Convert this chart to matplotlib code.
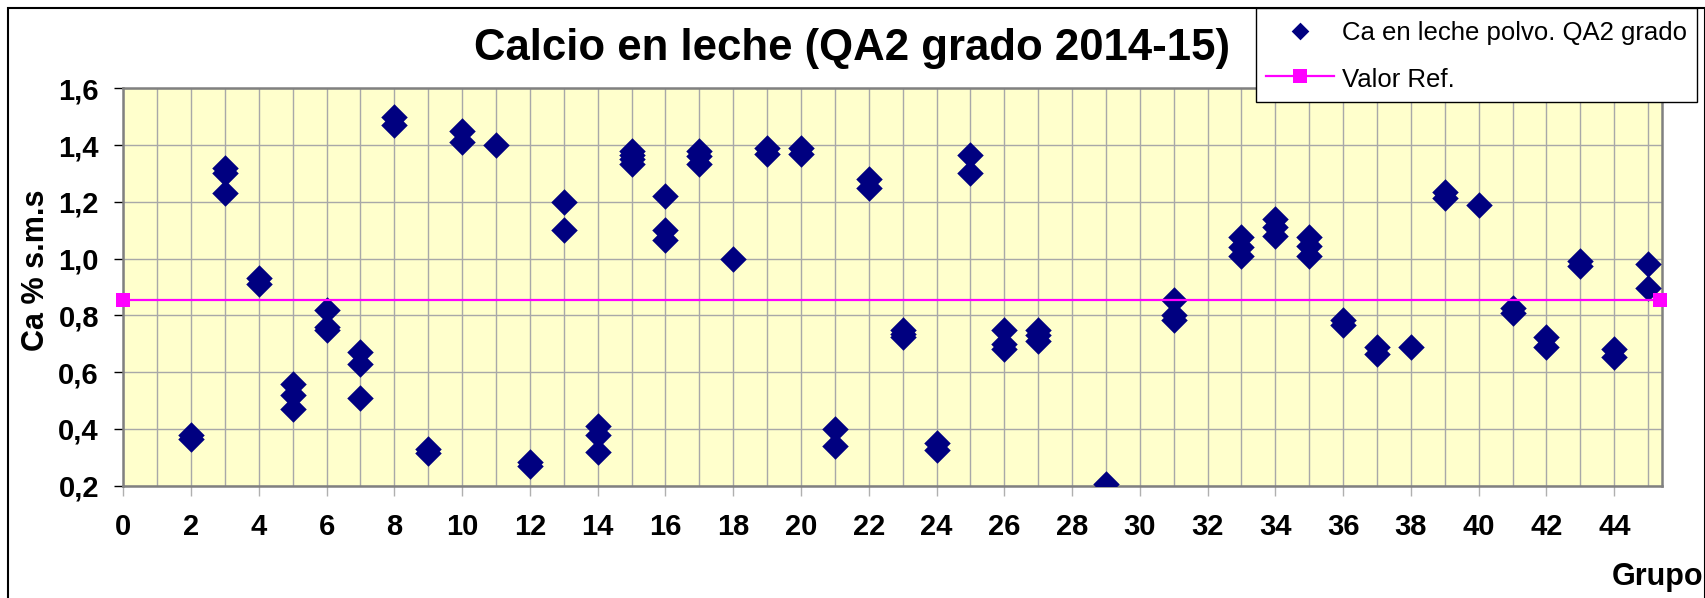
import matplotlib
matplotlib.use('Agg')
import matplotlib.pyplot as plt
from matplotlib.ticker import MultipleLocator, FuncFormatter
from matplotlib.patches import Rectangle

plt.rcParams['font.family'] = ['Liberation Sans', 'DejaVu Sans']

# datos
grupo = [2, 2,
         3, 3, 3,
         4, 4,
         5, 5, 5,
         6, 6, 6,
         7, 7, 7,
         8, 8,
         9, 9,
         10, 10,
         11,
         12, 12,
         13, 13,
         14, 14, 14,
         15, 15, 15, 15,
         16, 16, 16,
         17, 17, 17,
         18,
         19, 19,
         20, 20,
         21, 21,
         22, 22,
         23, 23, 23,
         24, 24,
         25, 25,
         26, 26, 26,
         27, 27, 27,
         29,
         31, 31, 31,
         33, 33, 33,
         34, 34, 34,
         35, 35, 35,
         36, 36,
         37, 37,
         38,
         39, 39,
         40,
         41, 41,
         42, 42,
         43, 43,
         44, 44,
         45, 45]
calcio = [0.38, 0.365,
          1.32, 1.30, 1.23,
          0.93, 0.91,
          0.56, 0.52, 0.47,
          0.82, 0.76, 0.75,
          0.67, 0.63, 0.51,
          1.50, 1.47,
          0.33, 0.315,
          1.45, 1.41,
          1.40,
          0.285, 0.27,
          1.20, 1.10,
          0.41, 0.38, 0.32,
          1.38, 1.365, 1.35, 1.335,
          1.22, 1.10, 1.065,
          1.38, 1.36, 1.335,
          1.00,
          1.39, 1.37,
          1.39, 1.37,
          0.40, 0.34,
          1.28, 1.25,
          0.75, 0.735, 0.725,
          0.35, 0.325,
          1.365, 1.30,
          0.75, 0.70, 0.68,
          0.75, 0.73, 0.71,
          0.205,
          0.855, 0.80, 0.785,
          1.075, 1.04, 1.01,
          1.14, 1.11, 1.08,
          1.075, 1.045, 1.01,
          0.785, 0.765,
          0.69, 0.665,
          0.69,
          1.235, 1.215,
          1.19,
          0.825, 0.81,
          0.725, 0.69,
          0.99, 0.975,
          0.68, 0.655,
          0.98, 0.895]

ref_x = [0, 45.35]
ref_y = [0.855, 0.855]

xticks = list(range(0, 46, 2))
yticks = [0.2, 0.4, 0.6, 0.8, 1.0, 1.2, 1.4, 1.6]

W, H = 1706, 598
fig = plt.figure(figsize=(W / 100, H / 100), dpi=100)
ax = fig.add_axes([123.2 / W, 1 - 485.7 / H, (1661.7 - 123.2) / W, (485.7 - 88.3) / H])
ax.set_facecolor('#FFFFCC')

ax.scatter(grupo, calcio, marker='D', s=13.5 ** 2, color='#000080', linewidths=0,
           zorder=3, label='Ca en leche polvo. QA2 grado')
ax.plot(ref_x, ref_y, color='#FF00FF', lw=1.6, marker='s', ms=10, mew=0,
        clip_on=False, zorder=4, label='Valor Ref.')

ax.set_xlim(0, 45.4)
ax.set_ylim(0.2, 1.6)
ax.set_xticks(xticks)
ax.xaxis.set_minor_locator(MultipleLocator(1))
ax.set_yticks(yticks)
ax.yaxis.set_major_formatter(FuncFormatter(lambda v, p: f'{v:.1f}'.replace('.', ',')))

ax.grid(True, which='both', axis='x', color='#A8A8A8', lw=1)
ax.grid(True, which='major', axis='y', color='#A8A8A8', lw=1)
ax.set_axisbelow(True)

ax.tick_params(axis='x', which='major', direction='out', length=7, width=1,
               color='#B0B0B0', labelsize=21, pad=13)
ax.tick_params(axis='x', which='minor', length=0)
ax.tick_params(axis='y', direction='out', length=6.5, width=1, color='black',
               labelsize=21, pad=11)
for lab in ax.get_xticklabels() + ax.get_yticklabels():
    lab.set_fontweight('bold')

for s in ax.spines.values():
    s.set_color('#808080')
    s.set_linewidth(1.8)

ax.set_ylabel('Ca % s.m.s', fontsize=22, fontweight='bold')
ax.yaxis.set_label_coords(36 / W, 1 - 270 / H, transform=fig.transFigure)
ax.yaxis.label.set_verticalalignment('center')
ax.set_xlabel('Grupo', fontsize=22, fontweight='bold')
ax.xaxis.set_label_coords(1703 / W, 1 - 585 / H, transform=fig.transFigure)
ax.xaxis.label.set_horizontalalignment('right')
ax.xaxis.label.set_verticalalignment('baseline')

fig.suptitle('Calcio en leche (QA2 grado 2014-15)', x=852 / W, y=1 - 60 / H,
             va='baseline', ha='center', fontsize=31.5, fontweight='bold')

leg_top = 1 - 8.3 / H
leg = fig.legend(loc='upper left', bbox_to_anchor=(1255.7 / W, leg_top - 0.2, (1696.7 - 1255.7) / W, 0.2),
                 mode='expand', fontsize=18.5, frameon=True, fancybox=False, framealpha=1,
                 edgecolor='black', borderpad=0.4, handlelength=2.65, handletextpad=0.3,
                 handleheight=1.2, labelspacing=0.75, borderaxespad=0)
leg.get_frame().set_linewidth(1)
leg.legend_handles[0].set_sizes([9 ** 2])
leg.set_zorder(10)

# marco exterior
fig.patches.append(Rectangle((8 / W, -0.05), (1705 - 8) / W, 1.05 - 8 / H, transform=fig.transFigure,
                             fill=False, edgecolor='black', lw=1.5, clip_on=False))

fig.savefig('out.png', dpi=100)
